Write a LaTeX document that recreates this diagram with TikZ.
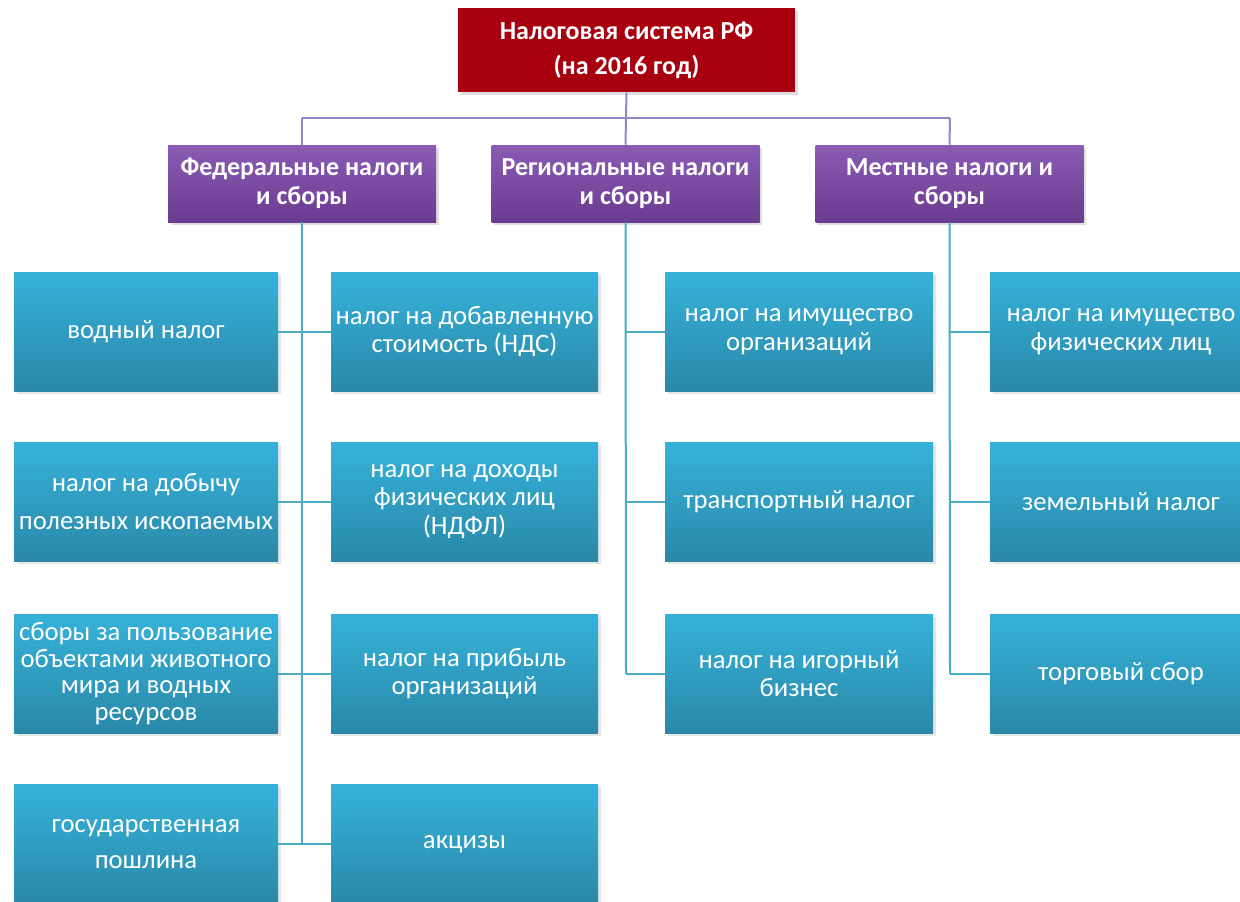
\documentclass[tikz,border=0pt]{standalone}
\usepackage{fontspec}
\setmainfont{Carlito}
\usetikzlibrary{shadows}
\definecolor{topred}{HTML}{A8000E}
\definecolor{purpT}{HTML}{8A5BB3}
\definecolor{purpB}{HTML}{6A3C90}
\definecolor{blueT}{HTML}{36B2DA}
\definecolor{blueB}{HTML}{2A88A8}
\definecolor{plink}{HTML}{9088C4}
\definecolor{blink}{HTML}{4BACC6}
\tikzset{
  topbox/.style={fill=topred, text=white, font=\bfseries\fontsize{19.5}{26}\selectfont, align=center,
    minimum width=337*0.75pt, minimum height=84*0.75pt, inner sep=0pt,
    drop shadow={shadow xshift=2pt, shadow yshift=-2pt, opacity=0.25}},
  catbox/.style={top color=purpT, bottom color=purpB, text=white, font=\bfseries\fontsize{19.5}{21.75}\selectfont, align=center,
    minimum width=268*0.75pt, minimum height=77*0.75pt, inner sep=0pt,
    drop shadow={shadow xshift=2pt, shadow yshift=-2pt, opacity=0.25}},
  taxbox/.style={top color=blueT, bottom color=blueB, text=white, font=\fontsize{20}{21.5}\selectfont, align=center,
    minimum height=119*0.75pt, inner sep=0pt,
    drop shadow={shadow xshift=2pt, shadow yshift=-2pt, opacity=0.2}},
  plinkst/.style={draw=plink, line width=1.5pt},
  blinkst/.style={draw=blink, line width=1.5pt},
}
\begin{document}
\begin{tikzpicture}[x=0.75pt, y=-0.75pt]
\useasboundingbox (0,0) rectangle (1240,901);
\clip (0,0) rectangle (1240,901);
\fill[white] (0,0) rectangle (1240,901);

% connector end points
\coordinate (hub) at (626,118);
\coordinate (hl) at (302,118);
\coordinate (hr) at (950,118);
\coordinate (f4) at (302,844);
\coordinate (r3) at (626,673.5);
\coordinate (m3) at (950,673.5);

\node[topbox] (top) at (626.5,50) {Налоговая система РФ\\(на 2016 год)};
\node[catbox] (fed) at (302,183.5) {Федеральные налоги\\и сборы};
\node[catbox] (reg) at (625.5,183.5) {Региональные налоги\\и сборы};
\node[catbox] (loc) at (949.5,183.5) {Местные налоги и\\сборы};

\draw[plinkst] (top.south) -- (hub);
\draw[plinkst] (hl) -- (hr);
\draw[plinkst] (hl) -- (fed.north);
\draw[plinkst] (hub) -- (reg.north);
\draw[plinkst] (hr) -- (loc.north);

\draw[blinkst] (fed.south) -- (f4);
\draw[blinkst] (reg.south) -- (r3);
\draw[blinkst] (loc.south) -- (m3);

% column 1
\node[taxbox, minimum width=264*0.75pt] (a1) at (146,331.5) {водный налог};
\node[taxbox, minimum width=264*0.75pt, font=\fontsize{20}{28.5}\selectfont] (a2) at (146,501.5) {налог на добычу\\полезных ископаемых};
\node[taxbox, minimum width=264*0.75pt, font=\fontsize{20}{20}\selectfont] (a3) at (146,673.5) {сборы за пользование\\объектами животного\\мира и водных\\ресурсов};
\node[taxbox, minimum width=264*0.75pt, font=\fontsize{20}{27}\selectfont] (a4) at (146,844) {государственная\\пошлина};
% column 2
\node[taxbox, minimum width=267*0.75pt] (b1) at (464.5,331.5) {налог на добавленную\\стоимость (НДС)};
\node[taxbox, minimum width=267*0.75pt] (b2) at (464.5,501.5) {налог на доходы\\физических лиц\\(НДФЛ)};
\node[taxbox, minimum width=267*0.75pt] (b3) at (464.5,673.5) {налог на прибыль\\организаций};
\node[taxbox, minimum width=267*0.75pt] (b4) at (464.5,844) {акцизы};
% column 3
\node[taxbox, minimum width=268*0.75pt] (c1) at (799,331.5) {налог на имущество\\организаций};
\node[taxbox, minimum width=268*0.75pt] (c2) at (799,501.5) {транспортный налог};
\node[taxbox, minimum width=268*0.75pt] (c3) at (799,673.5) {налог на игорный\\бизнес};
% column 4
\node[taxbox, minimum width=262*0.75pt] (d1) at (1121,331.5) {налог на имущество\\физических лиц};
\node[taxbox, minimum width=262*0.75pt] (d2) at (1121,501.5) {земельный налог};
\node[taxbox, minimum width=262*0.75pt] (d3) at (1121,673.5) {торговый сбор};

% horizontal links
\foreach \i in {1,2,3,4} { \draw[blinkst] (a\i.east) -- (b\i.west); }
\foreach \i in {1,2,3} { \draw[blinkst] (reg.south |- c\i.west) -- (c\i.west); }
\foreach \i in {1,2,3} { \draw[blinkst] (loc.south |- d\i.west) -- (d\i.west); }
\end{tikzpicture}
\end{document}
